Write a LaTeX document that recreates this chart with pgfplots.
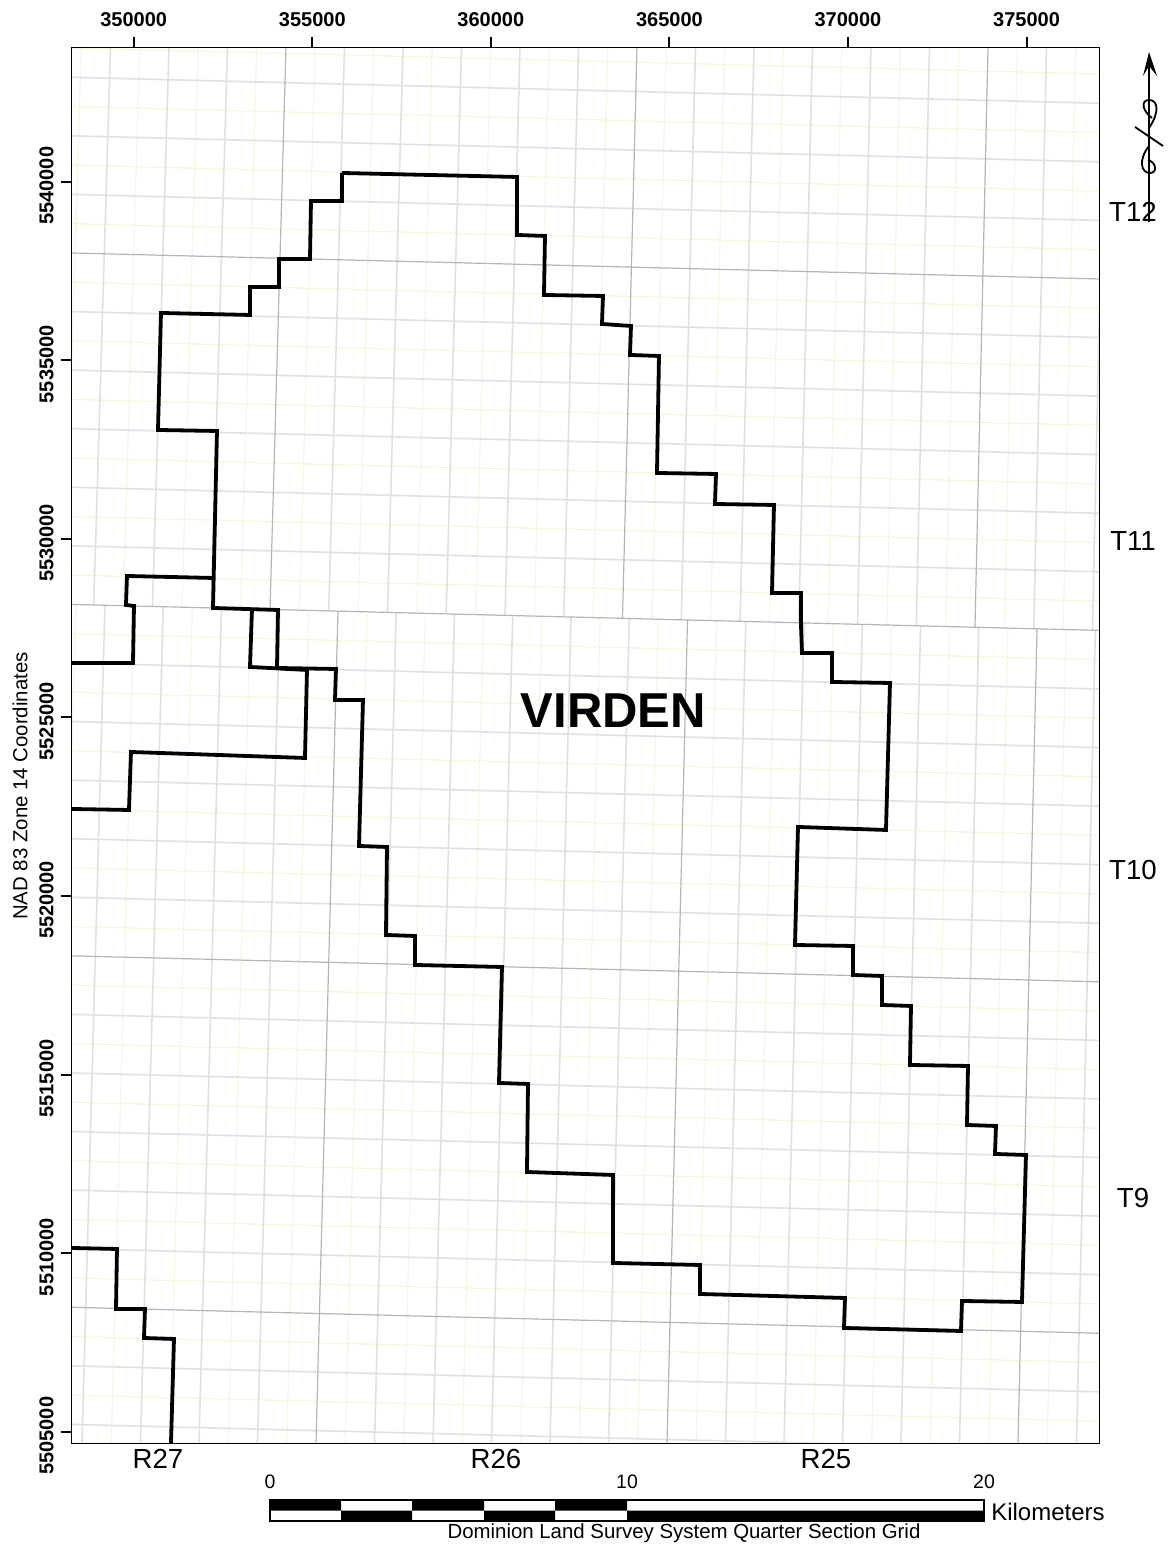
\documentclass[border=0pt]{standalone}
\usepackage{fontspec}
\setmainfont{Liberation Sans}
\usepackage{pgfplots}
\pgfplotsset{compat=1.18}

\definecolor{qsec}{HTML}{F4F7DA}
\definecolor{sect}{HTML}{E0E0E2}
\definecolor{rng}{HTML}{B4B4B6}

\begin{document}
\begin{tikzpicture}
\useasboundingbox (-35.85pt,-51.85pt) rectangle (547.65pt,721.65pt);
\begin{axis}[
    scale only axis,
    width=514pt,
    height=697.8pt,
    xmin=348264, xmax=377048,
    ymin=5504675, ymax=5543752,
    axis line style={black,line width=0.75pt},
    axis on top,
    unbounded coords=jump,
    scaled ticks=false,
    xtick={350000,355000,360000,365000,370000,375000},
    ytick={5505000,5510000,5515000,5520000,5525000,5530000,5535000,5540000},
    xtick pos=upper, xticklabel pos=upper,
    ytick pos=lower, yticklabel pos=lower,
    tick align=outside,
    major tick length=5.5pt,
    tick style={black,line width=1pt},
    /pgf/number format/assume math mode=true,
    /pgf/number format/fixed,
    /pgf/number format/set thousands separator={},
    xticklabel style={font=\fontsize{10}{12}\selectfont\bfseries,yshift=1.5pt},
    yticklabel style={font=\fontsize{10}{12}\selectfont\bfseries,rotate=90,anchor=south,xshift=-2pt},
]
% quarter lines, east-west
\addplot[qsec,line width=0.6pt,no markers] coordinates {
(348264,5543744) (377048,5543016) (nan,nan)
(348264,5542104) (377048,5541376) (nan,nan)
(348264,5540464) (377048,5539736) (nan,nan)
(348264,5538824) (377048,5538096) (nan,nan)
(348264,5537184) (377048,5536456) (nan,nan)
(348264,5535544) (377048,5534816) (nan,nan)
(348264,5533904) (377048,5533176) (nan,nan)
(348264,5532264) (377048,5531536) (nan,nan)
(348264,5530624) (377048,5529896) (nan,nan)
(348264,5528984) (377048,5528256) (nan,nan)
(348264,5527344) (377048,5526616) (nan,nan)
(348264,5525704) (377048,5524976) (nan,nan)
(348264,5524064) (377048,5523336) (nan,nan)
(348264,5522424) (377048,5521696) (nan,nan)
(348264,5520784) (377048,5520056) (nan,nan)
(348264,5519144) (377048,5518416) (nan,nan)
(348264,5517504) (377048,5516776) (nan,nan)
(348264,5515864) (377048,5515136) (nan,nan)
(348264,5514224) (377048,5513496) (nan,nan)
(348264,5512584) (377048,5511856) (nan,nan)
(348264,5510944) (377048,5510216) (nan,nan)
(348264,5509304) (377048,5508576) (nan,nan)
(348264,5507664) (377048,5506936) (nan,nan)
(348264,5506024) (377048,5505296) (nan,nan)
};
% quarter lines, north-south, north of the correction line
\addplot[qsec,line width=0.6pt,no markers] coordinates {
(348531,5543752) (348058,5528170) (nan,nan)
(350169,5543752) (349704,5528128) (nan,nan)
(351807,5543752) (351349,5528086) (nan,nan)
(353445,5543752) (352994,5528045) (nan,nan)
(355083,5543752) (354639,5528003) (nan,nan)
(356721,5543752) (356284,5527962) (nan,nan)
(358359,5543752) (357929,5527920) (nan,nan)
(359997,5543752) (359574,5527878) (nan,nan)
(361635,5543752) (361219,5527837) (nan,nan)
(363273,5543752) (362864,5527795) (nan,nan)
(364911,5543752) (364509,5527754) (nan,nan)
(366549,5543752) (366154,5527712) (nan,nan)
(368187,5543752) (367799,5527670) (nan,nan)
(369825,5543752) (369444,5527629) (nan,nan)
(371463,5543752) (371089,5527587) (nan,nan)
(373101,5543752) (372734,5527546) (nan,nan)
(374739,5543752) (374379,5527504) (nan,nan)
(376377,5543752) (376024,5527462) (nan,nan)
};
% quarter lines, north-south, south of the correction line
\addplot[qsec,line width=0.6pt,no markers] coordinates {
(348380,5528160) (347733,5504675) (nan,nan)
(350011,5528119) (349371,5504675) (nan,nan)
(351642,5528078) (351009,5504675) (nan,nan)
(353273,5528037) (352647,5504675) (nan,nan)
(354904,5527996) (354285,5504675) (nan,nan)
(356536,5527954) (355923,5504675) (nan,nan)
(358167,5527913) (357561,5504675) (nan,nan)
(359798,5527872) (359199,5504675) (nan,nan)
(361429,5527831) (360837,5504675) (nan,nan)
(363060,5527790) (362475,5504675) (nan,nan)
(364692,5527748) (364113,5504675) (nan,nan)
(366323,5527707) (365751,5504675) (nan,nan)
(367954,5527666) (367389,5504675) (nan,nan)
(369585,5527625) (369027,5504675) (nan,nan)
(371216,5527584) (370665,5504675) (nan,nan)
(372848,5527542) (372303,5504675) (nan,nan)
(374479,5527501) (373941,5504675) (nan,nan)
(376110,5527460) (375579,5504675) (nan,nan)
};
% section lines, east-west
\addplot[sect,line width=0.8pt,no markers] coordinates {
(348264,5542924) (377048,5542196) (nan,nan)
(348264,5541284) (377048,5540556) (nan,nan)
(348264,5539644) (377048,5538916) (nan,nan)
(348264,5536364) (377048,5535636) (nan,nan)
(348264,5534724) (377048,5533996) (nan,nan)
(348264,5533084) (377048,5532356) (nan,nan)
(348264,5531444) (377048,5530716) (nan,nan)
(348264,5529804) (377048,5529076) (nan,nan)
(348264,5526524) (377048,5525796) (nan,nan)
(348264,5524884) (377048,5524156) (nan,nan)
(348264,5523244) (377048,5522516) (nan,nan)
(348264,5521604) (377048,5520876) (nan,nan)
(348264,5519964) (377048,5519236) (nan,nan)
(348264,5516684) (377048,5515956) (nan,nan)
(348264,5515044) (377048,5514316) (nan,nan)
(348264,5513404) (377048,5512676) (nan,nan)
(348264,5511764) (377048,5511036) (nan,nan)
(348264,5510124) (377048,5509396) (nan,nan)
(348264,5506844) (377048,5506116) (nan,nan)
(348264,5505204) (377048,5504476) (nan,nan)
};
% section lines, north-south, north of the correction line
\addplot[sect,line width=0.8pt,no markers] coordinates {
(349350,5543752) (348881,5528149) (nan,nan)
(350988,5543752) (350526,5528107) (nan,nan)
(352626,5543752) (352171,5528066) (nan,nan)
(355902,5543752) (355461,5527982) (nan,nan)
(357540,5543752) (357106,5527941) (nan,nan)
(359178,5543752) (358751,5527899) (nan,nan)
(360816,5543752) (360396,5527858) (nan,nan)
(362454,5543752) (362041,5527816) (nan,nan)
(365730,5543752) (365331,5527733) (nan,nan)
(367368,5543752) (366976,5527691) (nan,nan)
(369006,5543752) (368621,5527650) (nan,nan)
(370644,5543752) (370266,5527608) (nan,nan)
(372282,5543752) (371911,5527566) (nan,nan)
(375558,5543752) (375201,5527483) (nan,nan)
(377196,5543752) (376846,5527441) (nan,nan)
};
% section lines, north-south, south of the correction line
\addplot[sect,line width=0.8pt,no markers] coordinates {
(349195,5528140) (348552,5504675) (nan,nan)
(350826,5528099) (350190,5504675) (nan,nan)
(352458,5528057) (351828,5504675) (nan,nan)
(354089,5528016) (353466,5504675) (nan,nan)
(357351,5527934) (356742,5504675) (nan,nan)
(358982,5527893) (358380,5504675) (nan,nan)
(360614,5527851) (360018,5504675) (nan,nan)
(362245,5527810) (361656,5504675) (nan,nan)
(363876,5527769) (363294,5504675) (nan,nan)
(367138,5527687) (366570,5504675) (nan,nan)
(368770,5527645) (368208,5504675) (nan,nan)
(370401,5527604) (369846,5504675) (nan,nan)
(372032,5527563) (371484,5504675) (nan,nan)
(373663,5527522) (373122,5504675) (nan,nan)
(376926,5527439) (376398,5504675) (nan,nan)
};
% township and range lines
\addplot[rng,line width=0.6pt,no markers] coordinates {
(348264,5538004) (377048,5537276) (nan,nan)
(348264,5528164) (377048,5527436) (nan,nan)
(348264,5518324) (377048,5517596) (nan,nan)
(348264,5508484) (377048,5507756) (nan,nan)
(354264,5543752) (353816,5528024) (nan,nan)
(364092,5543752) (363686,5527774) (nan,nan)
(373920,5543752) (373556,5527525) (nan,nan)
(355720,5527975) (355104,5504675) (nan,nan)
(365507,5527728) (364932,5504675) (nan,nan)
(375294,5527481) (374760,5504675) (nan,nan)
};
% municipality boundary
\addplot[black,line width=1.9pt,no markers,line join=miter] coordinates {
(355832,5540244) (360732,5540132) (360732,5538508) (361516,5538480)
(361488,5536828) (363140,5536800) (363112,5536016) (363924,5535960)
(363896,5535148) (364708,5535120) (364652,5531844) (366304,5531816)
(366276,5530976) (367928,5530948) (367872,5528484) (368684,5528484)
(368684,5527588) (368712,5526804) (369552,5526804) (369552,5525992)
(371176,5525964) (371064,5521848) (368600,5521932) (368516,5518628)
(370140,5518600) (370140,5517788) (370952,5517760) (370952,5516948)
(371764,5516920) (371736,5515268) (373360,5515240) (373332,5513588)
(374144,5513560) (374116,5512776) (374984,5512748) (374872,5508632)
(373192,5508660) (373164,5507820) (369888,5507904) (369916,5508744)
(365856,5508856) (365856,5509668) (363420,5509724) (363420,5512188)
(361012,5512272) (361040,5514736) (360228,5514764) (360312,5518012)
(357876,5518068) (357876,5518880) (357064,5518908) (357092,5521372)
(356308,5521400) (356420,5525488) (355636,5525488) (355664,5526356)
(354012,5526384) (354040,5528008) (352220,5528064) (352332,5533020)
(350680,5533048) (350764,5536324) (353256,5536268) (353256,5537052)
(354068,5537052) (354068,5537836) (354936,5537836) (354964,5539460)
(355832,5539460) (355832,5540244)
};
% neighbouring boundaries
\addplot[black,line width=1.9pt,no markers,line join=miter] coordinates {
(353312,5528036) (353256,5526412) (354852,5526328) (354796,5523864)
(349924,5524032) (349868,5522408) (348264,5522436)
};
\addplot[black,line width=1.9pt,no markers,line join=miter] coordinates {
(352220,5528904) (349812,5528960) (349784,5528148) (350008,5528120)
(349980,5526524) (348264,5526524)
};
\addplot[black,line width=1.9pt,no markers,line join=miter] coordinates {
(348264,5510144) (349532,5510116) (349504,5508436) (350316,5508436)
(350288,5507624) (351128,5507596) (351044,5504675)
};
\end{axis}
% everything below is placed in reference pixels
\begin{scope}[x=0.5pt,y=-0.5pt,shift={(-35.85pt,721.65pt)}]
\node[font=\bfseries\fontsize{24.5}{28}\selectfont] at (613.5,711) {VIRDEN};
\node[rotate=90,font=\fontsize{10.2}{12}\selectfont] at (20,786) {NAD 83 Zone 14 Coordinates};
\foreach \t/\px/\py in {T12/1133/212,T11/1133/541,T10/1133/870,T9/1133/1198,R27/158/1459,R26/496/1459,R25/826/1459}
  \node[font=\fontsize{13.8}{16}\selectfont] at (\px,\py) {\t};
% scale bar
\fill[white] (270,1500) rectangle (984,1521);
\fill[black] (270,1500) rectangle (341,1510.5) (412,1500) rectangle (484,1510.5) (555,1500) rectangle (627,1510.5);
\fill[black] (341,1510.5) rectangle (412,1521) (484,1510.5) rectangle (555,1521) (627,1510.5) rectangle (984,1521);
\draw[black,line width=0.6pt] (270,1500) rectangle (984,1521);
\foreach \t/\px in {0/270,10/627,20/984}
  \node[font=\fontsize{9.75}{12}\selectfont] at (\px,1482) {\t};
\node[font=\fontsize{12}{14}\selectfont] at (1048,1512) {Kilometers};
\node[font=\fontsize{10.2}{12}\selectfont] at (684,1533) {Dominion Land Survey System Quarter Section Grid};
% north arrow
\draw[black,line width=1.1pt] (1149,56) -- (1149,222);
\fill[black] (1149,52) -- (1157,76) -- (1149,66) -- (1143,76) -- cycle;
\draw[black,line width=0.9pt] (1135,127) -- (1163,146);
\draw[black,line width=0.9pt] (1149,128) .. controls (1160,112) and (1158,100) .. (1149,100) .. controls (1140,100) and (1143,112) .. (1152,118);
\draw[black,line width=0.9pt] (1149,146) .. controls (1138,160) and (1141,173) .. (1150,173) .. controls (1158,173) and (1156,162) .. (1148,160);
\end{scope}
\end{tikzpicture}
\end{document}
